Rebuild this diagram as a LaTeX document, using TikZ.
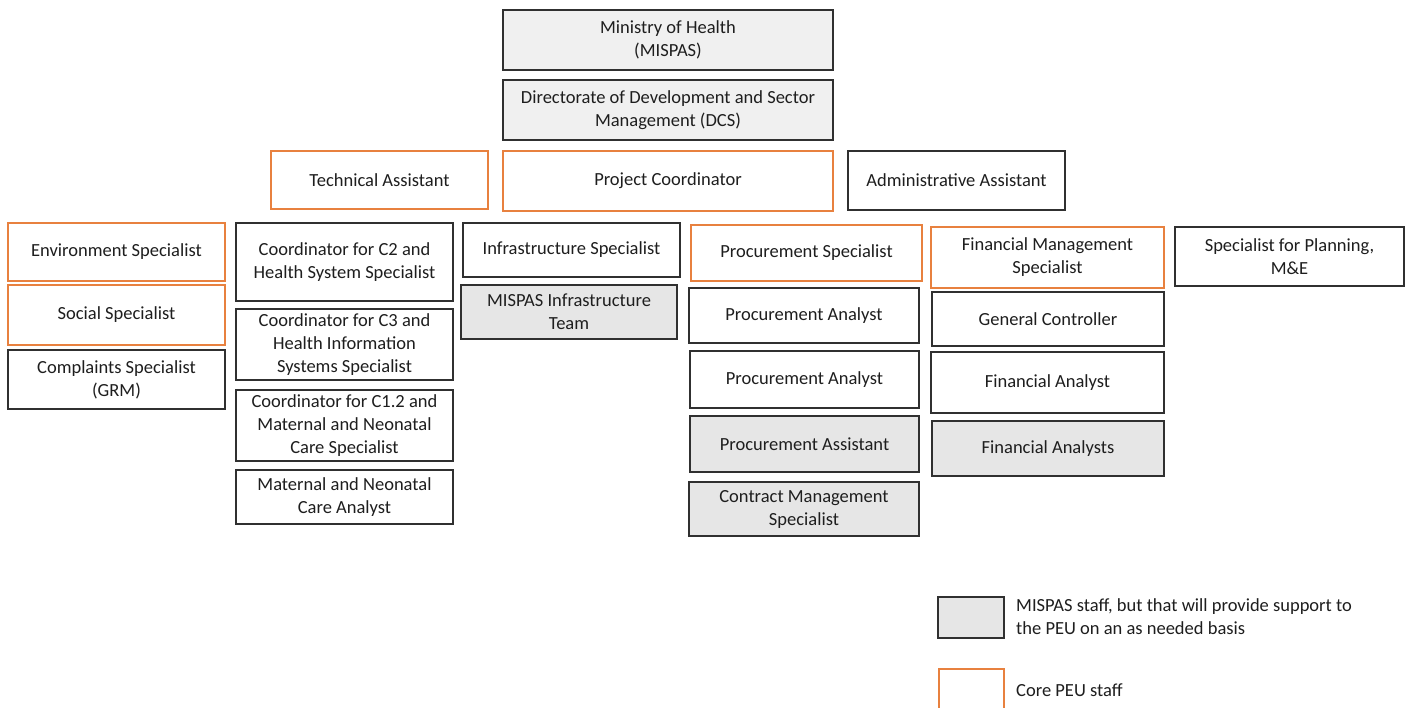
\documentclass[tikz,border=0pt]{standalone}
\usepackage{fontspec}
\setmainfont{Carlito}
\definecolor{coreor}{HTML}{E8813F}
\definecolor{lineblk}{HTML}{303030}
\definecolor{mfill}{HTML}{E6E6E6}
\definecolor{tfill}{HTML}{F0F0F0}
\definecolor{txt}{HTML}{1E1E1E}
\tikzset{
  box/.style={draw=lineblk, line width=1.3pt, inner sep=0pt, outer sep=0pt, align=center,
    text=txt, font=\fontsize{18.5}{23}\selectfont},
  core/.style={box, draw=coreor},
  plain/.style={box},
  mispas/.style={box, fill=mfill},
  top/.style={box, fill=tfill},
}
% \bx{style}{name}{x1}{y1}{x2}{y2}{text}
\newcommand{\bx}[7]{%
  \node[#1, minimum width={#5-#3}, minimum height={#6-#4}] (#2) at ({(#3+#5)/2},{(#4+#6)/2+1}) {#7};}
\begin{document}
\begin{tikzpicture}[x=1pt,y=-1pt]
\useasboundingbox (0,0) rectangle (1408,708);
\fill[white] (0,0) rectangle (1408,708);
\bx{top}{moh}{503}{9}{833}{69}{Ministry of Health\\(MISPAS)}
\bx{top}{dcs}{503}{79}{833}{139}{Directorate of Development and Sector\\Management (DCS)}
\bx{core}{ta}{271}{150}{488}{208}{Technical Assistant}
\bx{core}{pc}{503}{150}{833}{210}{Project Coordinator}
\bx{plain}{aa}{848}{150}{1065}{209}{Administrative Assistant}
\bx{core}{env}{8}{222}{225}{280}{Environment Specialist}
\bx{core}{soc}{8}{284}{225}{344}{Social Specialist}
\bx{plain}{grm}{8}{349}{225}{408}{Complaints Specialist\\(GRM)}
\bx{plain}{c2}{236}{222}{453}{300}{Coordinator for C2 and\\Health System Specialist}
\bx{plain}{c3}{236}{308}{453}{379}{Coordinator for C3 and\\Health Information\\Systems Specialist}
\bx{plain}{c12}{236}{389}{453}{460}{Coordinator for C1.2 and\\Maternal and Neonatal\\Care Specialist}
\bx{plain}{mnc}{236}{469}{453}{523}{Maternal and Neonatal\\Care Analyst}
\bx{plain}{inf}{463}{222}{680}{276}{Infrastructure Specialist}
\bx{mispas}{mit}{461}{284}{677}{338}{MISPAS Infrastructure\\Team}
\bx{core}{ps}{691}{224}{922}{280}{Procurement Specialist}
\bx{plain}{pa1}{689}{287}{919}{342}{Procurement Analyst}
\bx{plain}{pa2}{690}{350}{919}{407}{Procurement Analyst}
\bx{mispas}{pas}{690}{415}{919}{471}{Procurement Assistant}
\bx{mispas}{cms}{689}{481}{919}{535}{Contract Management\\Specialist}
\bx{core}{fms}{931}{226}{1164}{287}{Financial Management\\Specialist}
\bx{plain}{gc}{932}{291}{1164}{345}{General Controller}
\bx{plain}{fa}{931}{351}{1164}{412}{Financial Analyst}
\bx{mispas}{fas}{932}{420}{1164}{475}{Financial Analysts}
\bx{plain}{spme}{1175}{226}{1404}{285}{Specialist for Planning,\\M\&E}
% legend
\bx{mispas}{lg1}{938}{596}{1004}{637}{}
\bx{core}{lg2}{939}{668}{1004}{712}{}
\node[anchor=west, align=left, inner sep=0pt, text=txt, font=\fontsize{18.5}{23}\selectfont] (lt1) at (1016,617) {MISPAS staff, but that will provide support to\\the PEU on an as needed basis};
\node[anchor=west, inner sep=0pt, text=txt, font=\fontsize{18.5}{23}\selectfont] (lt2) at (1016,690) {Core PEU staff};
\end{tikzpicture}
\end{document}
